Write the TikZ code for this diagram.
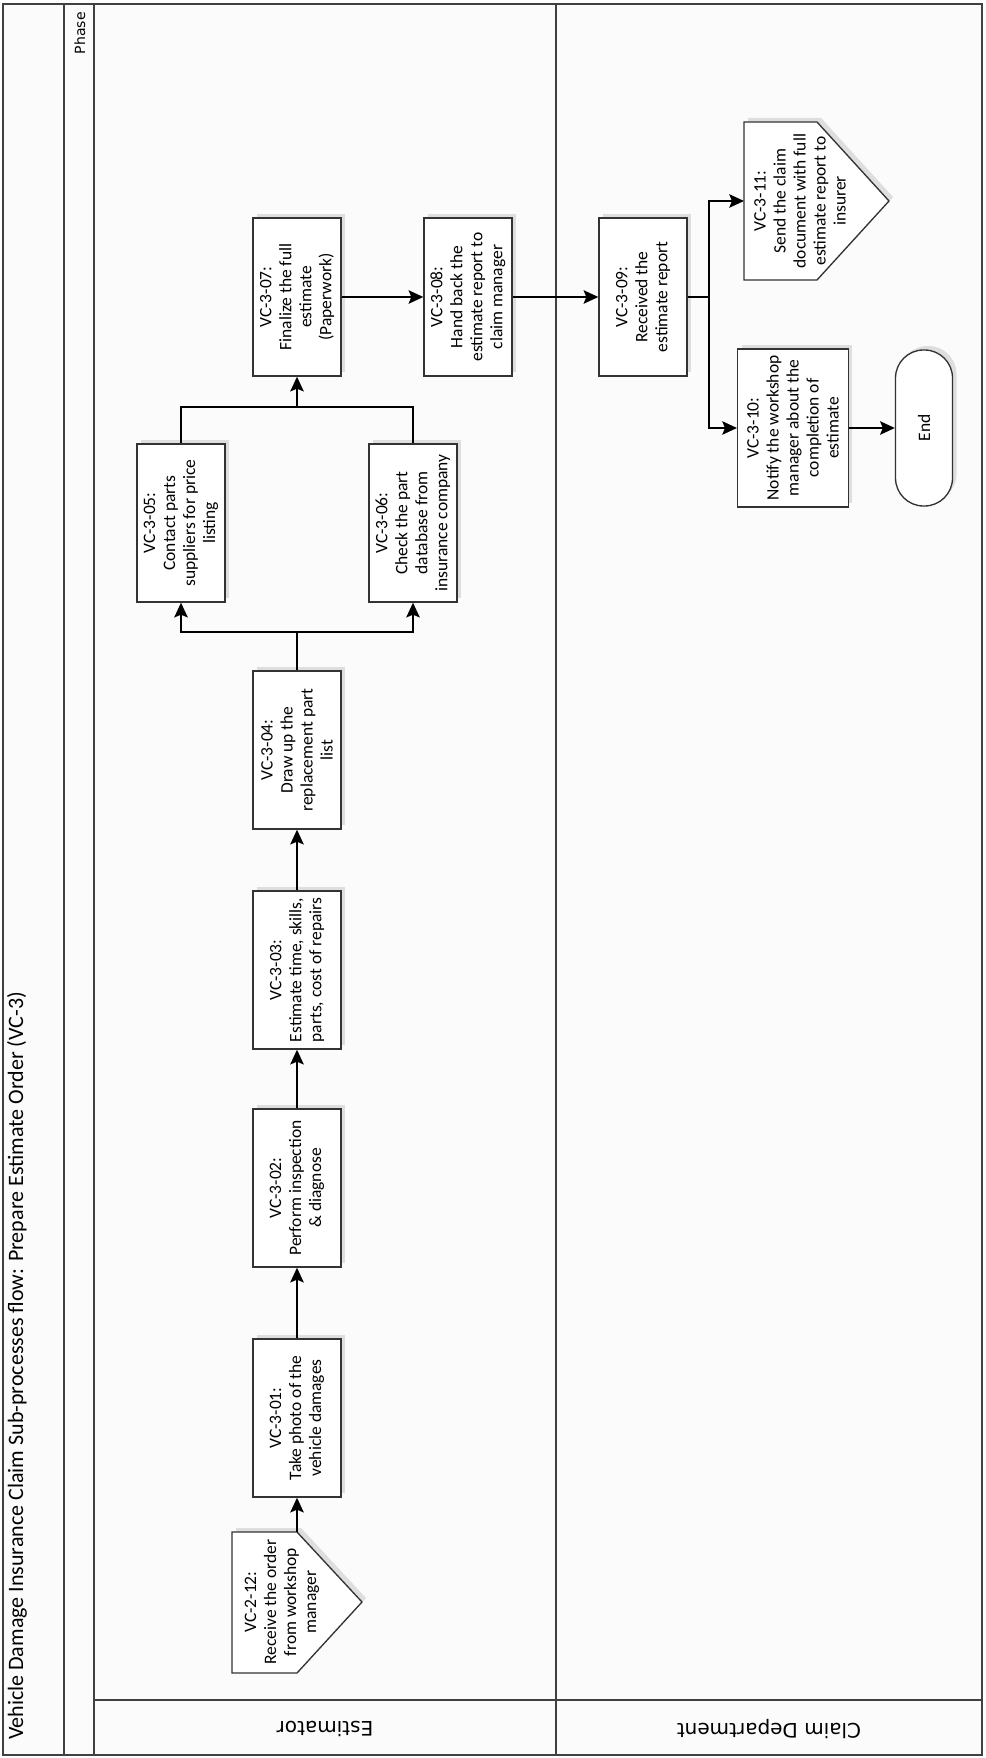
\documentclass[tikz,border=0pt]{standalone}
\usepackage{fontspec}
\setmainfont{Carlito}
\newfontfamily\lanefont{DejaVu Sans}
\usetikzlibrary{arrows.meta}

\begin{document}
\begin{tikzpicture}[
		x=0.75pt, y=-0.75pt,
		font=\fontsize{13.1}{15}\selectfont,
		line/.style={line width=1.7pt, black},
		flow/.style={line, -{Stealth[length=11pt, width=10pt, inset=2pt]}},
		frameline/.style={line width=0.9pt, black!75},
		shadowed/.style={preaction={draw=none, fill=black!13, transform canvas={xshift=3pt, yshift=3pt}}},
		stepbox/.style={rectangle, draw=black!80, line width=1pt, fill=white, shadowed, rotate=90, minimum width=118.5pt, minimum height=66pt, align=center, inner sep=1pt},
		offpage/.style={draw=black!80, line width=1pt, fill=white, shadowed},
		offtext/.style={rotate=90, align=center, inner sep=0pt},
		terminal/.style={stepbox, rounded corners=21pt, minimum width=117pt, minimum height=42.75pt},
		lanelabel/.style={rotate=180, inner sep=0pt, font=\lanefont\fontsize{15}{17}\selectfont}
	]

	\useasboundingbox (0,0) rectangle (985,1758);

	% pool and lanes
	\fill[gray!3] (3,4) rectangle (982,1755);
	\draw[frameline] (3,4) rectangle (982,1755);
	\draw[frameline] (64,4) -- (64,1755);
	\draw[frameline] (94,4) -- (94,1755);
	\draw[frameline] (556,4) -- (556,1755);
	\draw[frameline] (94,1700) -- (982,1700);

	\node[rotate=90, anchor=west, inner sep=0pt, font=\fontsize{16.5}{18}\selectfont] (title) at (17,1740) {Vehicle Damage Insurance Claim Sub-processes flow: Prepare Estimate Order (VC-3)};
	\node[rotate=90, anchor=east, inner sep=0pt, font=\lanefont\fontsize{10.5}{12}\selectfont] (phase) at (80,12) {Phase};
	\node[lanelabel] (estimator) at (325,1729) {Estimator};
	\node[lanelabel] (claimdept) at (769,1729) {Claim Department};

	% estimator lane
	\draw[offpage] (232,1532) -- (297,1532) -- (362,1602) -- (297,1673) -- (232,1673) -- cycle;
	\node[offtext] (n212) at (282,1602) {VC-2-12:\\Receive the order\\from workshop\\manager};
	\coordinate (n212out) at (297,1532);

	\node[stepbox] (n01) at (297,1418) {VC-3-01:\\Take photo of the\\vehicle damages};
	\node[stepbox] (n02) at (297,1188) {VC-3-02:\\Perform inspection\\\& diagnose};
	\node[stepbox] (n03) at (297,970) {VC-3-03:\\Estimate time, skills,\\parts, cost of repairs};
	\node[stepbox] (n04) at (297,750) {VC-3-04:\\Draw up the\\replacement part\\list};
	\node[stepbox] (n05) at (181,523) {VC-3-05:\\Contact parts\\suppliers for price\\listing};
	\node[stepbox] (n06) at (413,523) {VC-3-06:\\Check the part\\database from\\insurance company};
	\node[stepbox] (n07) at (297,297) {VC-3-07:\\Finalize the full\\estimate\\(Paperwork)};
	\node[stepbox] (n08) at (468,297) {VC-3-08:\\Hand back the\\estimate report to\\claim manager};

	% claim department lane
	\node[stepbox] (n09) at (643,297) {VC-3-09:\\Received the\\estimate report};
	\node[stepbox, minimum height=83pt] (n10) at (793,428) {VC-3-10:\\Notify the workshop\\manager about the\\completion of\\estimate};
	\draw[offpage] (744,122) -- (817,122) -- (889,201) -- (817,280) -- (744,280) -- cycle;
	\node[offtext] (n11) at (800,201) {VC-3-11:\\Send the claim\\document with full\\estimate report to\\insurer};
	\coordinate (n11in) at (744,201);
	\node[terminal] (end) at (924,428) {End};

	% connectors
	\draw[flow] (n212out) -- (n01);
	\draw[flow] (n01) -- (n02);
	\draw[flow] (n02) -- (n03);
	\draw[flow] (n03) -- (n04);
	\draw[line] (n04.east) -- ++(0,-38) coordinate (split);
	\draw[flow] (split) -| (n05.west);
	\draw[flow] (split) -| (n06.west);
	\draw[line] (n05.east) -- ++(0,-36) coordinate (merge) -| (n06.east);
	\draw[flow] (merge -| n07) -- (n07);
	\draw[flow] (n07) -- (n08);
	\draw[flow] (n08) -- (n09);
	\draw[line] (n09.south) -- ++(21,0) coordinate (fork);
	\draw[flow] (fork) |- (n11in);
	\draw[flow] (fork) |- (n10);
	\draw[flow] (n10) -- (end);

\end{tikzpicture}
\end{document}
